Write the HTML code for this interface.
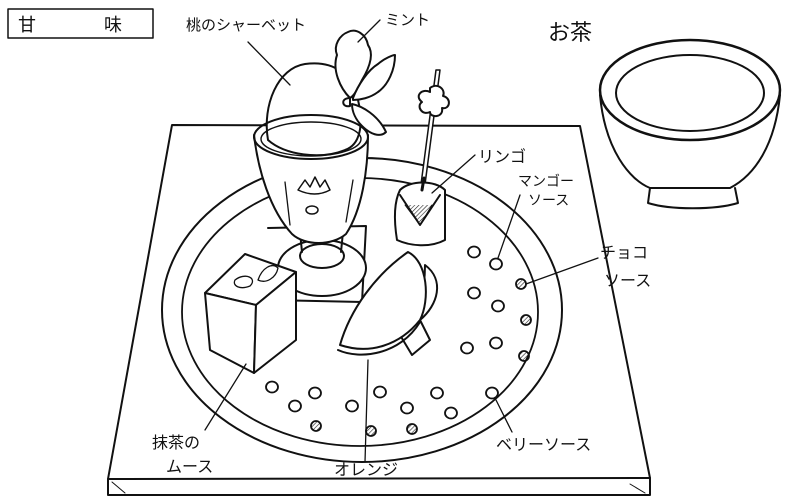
<!DOCTYPE html>
<html><head><meta charset="utf-8"><style>
html,body{margin:0;padding:0;background:#fff;width:800px;height:500px;overflow:hidden}
svg{display:block}
text{font-family:"Liberation Sans","Noto Sans CJK JP",sans-serif;fill:#111}
</style></head><body>
<svg width="800" height="500" viewBox="0 0 800 500" xmlns="http://www.w3.org/2000/svg">
<defs>
<pattern id="h" width="3" height="3" patternUnits="userSpaceOnUse" patternTransform="rotate(45)"><line x1="0" y1="0" x2="0" y2="3" stroke="#222" stroke-width="1.2"/></pattern>
</defs>
<g fill="none" stroke="#111" stroke-width="2" stroke-linejoin="round" stroke-linecap="round">
<rect x="8" y="9" width="145" height="29" stroke-width="1.5"/>
<path d="M172,125 L580,126 L650,478 L108,479 Z"/>
<path d="M108,479 L108,495 L650,495 L650,478" />
<path d="M112,482 L125,493 M630,484 L645,493" stroke-width="1"/>
<ellipse cx="362" cy="310" rx="200" ry="152"/>
<ellipse cx="360" cy="312" rx="178" ry="134" stroke-width="1.8"/>
<ellipse cx="690" cy="90" rx="90" ry="50" stroke-width="2.5"/>
<ellipse cx="690" cy="93" rx="74" ry="38"/>
<path d="M600,95 C605,150 630,180 650,188 L730,188 C755,175 775,145 780,95"/>
<path d="M650,188 L648,203 C670,210 715,210 738,203 L735,188"/>
<path d="M268,228 L366,226 L362,302 L270,300"/>
<ellipse cx="322" cy="268" rx="44" ry="28" fill="#fff"/>
<ellipse cx="322" cy="256" rx="22" ry="12" fill="#fff"/>
<path d="M300,232 L302,252 M343,232 L341,252"/>
<!-- glass body -->
<path d="M254,135 C258,170 270,210 292,234 C305,246 332,246 346,234 C362,210 368,170 368,135" fill="#fff"/>
<!-- sherbet -->
<path d="M268,140 C262,105 278,68 305,64 C335,60 352,75 358,100 C364,125 360,145 345,150 C320,160 285,155 268,140 Z" fill="#fff"/>
<ellipse cx="311" cy="137" rx="57" ry="22" />
<ellipse cx="311" cy="139" rx="50" ry="17" stroke-width="1.4"/>
<path d="M261,140 C260,155 290,160 262,140" stroke-width="0"/>
<path d="M298,190 L305,180 L310,187 L315,177 L320,187 L325,180 L330,190 Q315,198 298,190 Z" stroke-width="1.5"/>
<ellipse cx="312" cy="210" rx="6" ry="4" stroke-width="1.5"/>
<path d="M285,182 L290,225 M353,180 L346,222" stroke-width="1.3"/>
<!-- mint -->
<path d="M350,98 C340,88 332,70 337,55 C333,45 340,35 348,32 C356,28 366,34 368,45 C375,55 368,70 362,80 C358,88 355,95 350,98 Z" fill="#fff"/>
<path d="M353,98 C358,85 368,70 378,64 C385,58 393,55 395,55 C395,70 388,85 378,92 C370,98 360,100 353,100 Z" fill="#fff"/>
<path d="M352,104 C362,106 378,115 386,132 C380,138 370,134 362,126 C356,120 352,112 352,104 Z" fill="#fff"/>
<path d="M350,98 C340,98 342,108 350,106 Z" fill="#fff"/>
<!-- apple pick -->
<path d="M436,70 L440,70 L424,192 L420,192 Z" stroke-width="1.5" fill="#fff"/>
<path d="M430,88 C438,82 446,90 443,96 C452,98 450,110 442,108 C444,118 430,118 430,112 C422,116 416,106 422,102 C414,96 422,88 430,92 Z" fill="#fff"/>
<path d="M400,190 C410,180 435,180 445,190 L445,240 C430,248 410,246 397,240 C393,215 395,200 400,190 Z" fill="#fff"/>
<path d="M400,195 L420,225 L440,195" />
<path d="M405,205 L420,225 L432,205" fill="url(#h)" stroke-width="1"/>
<path d="M422,190 L424,178" stroke-width="3"/>
<!-- mousse -->
<path d="M205,293 L245,254 L296,272 L256,305 Z" fill="#fff"/>
<path d="M205,293 L256,305 L254,373 L210,350 Z" fill="#fff"/>
<path d="M256,305 L296,272 L296,340 L254,373 Z" fill="#fff"/>
<path d="M235,280 C245,272 258,278 250,286 C240,290 232,286 235,280 Z M258,280 C262,268 272,262 278,268 C276,278 266,284 258,280 Z" stroke-width="1.3"/>
<!-- orange -->
<path d="M425,265 C445,280 438,305 420,320 L430,340 L412,355 L400,335 C420,310 425,290 425,265 Z" fill="#fff"/>
<path d="M340,345 C350,310 375,275 408,252 C428,262 430,300 420,320 C400,345 370,355 340,345 Z" fill="#fff"/>
<path d="M338,350 C360,360 400,355 420,322" />
<g stroke-width="1.8">
<ellipse cx="474" cy="252" rx="6" ry="5.5"/><ellipse cx="496" cy="264" rx="6" ry="5.5"/>
<ellipse cx="474" cy="293" rx="6" ry="5.5"/><ellipse cx="498" cy="306" rx="6" ry="5.5"/>
<ellipse cx="467" cy="348" rx="6" ry="5.5"/><ellipse cx="496" cy="343" rx="6" ry="5.5"/>
<ellipse cx="272" cy="387" rx="6" ry="5.5"/><ellipse cx="315" cy="393" rx="6" ry="5.5"/>
<ellipse cx="295" cy="406" rx="6" ry="5.5"/><ellipse cx="352" cy="406" rx="6" ry="5.5"/>
<ellipse cx="380" cy="392" rx="6" ry="5.5"/><ellipse cx="407" cy="408" rx="6" ry="5.5"/>
<ellipse cx="437" cy="393" rx="6" ry="5.5"/><ellipse cx="451" cy="413" rx="6" ry="5.5"/>
<ellipse cx="492" cy="393" rx="6" ry="5.5"/>
<g fill="url(#h)">
<circle cx="521" cy="284" r="5"/><circle cx="526" cy="320" r="5"/><circle cx="524" cy="356" r="5"/>
<circle cx="316" cy="426" r="5"/><circle cx="371" cy="431" r="5"/><circle cx="412" cy="429" r="5"/>
</g></g>
<g stroke-width="1.3">
<line x1="248" y1="42" x2="290" y2="85"/>
<line x1="380" y1="20" x2="358" y2="42"/>
<line x1="475" y1="155" x2="432" y2="193"/>
<line x1="520" y1="195" x2="498" y2="258"/>
<line x1="598" y1="258" x2="526" y2="284"/>
<line x1="246" y1="364" x2="205" y2="430"/>
<line x1="368" y1="360" x2="365" y2="462"/>
<line x1="496" y1="400" x2="512" y2="432"/>
</g>
</g>
<g font-size="16">
<text x="18" y="31" font-size="18">甘</text><text x="104" y="31" font-size="18">味</text>
<text x="186" y="30" font-size="15">桃のシャーベット</text>
<text x="385" y="25" font-size="15">ミント</text>
<text x="548" y="40" font-size="22">お茶</text>
<text x="478" y="162">リンゴ</text>
<text x="518" y="186" font-size="14">マンゴー</text>
<text x="528" y="205" font-size="14">ソース</text>
<text x="600" y="258">チョコ</text>
<text x="604" y="286">ソース</text>
<text x="152" y="448">抹茶の</text>
<text x="166" y="472">ムース</text>
<text x="334" y="475">オレンジ</text>
<text x="496" y="450">ベリーソース</text>
</g>
</svg>
</body></html>
